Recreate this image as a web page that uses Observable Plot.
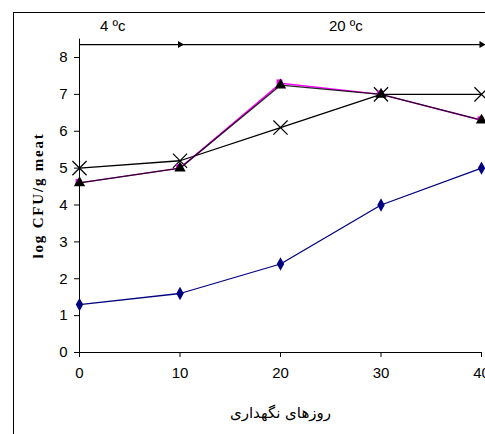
<!DOCTYPE html>
<html><head><meta charset="utf-8">
<script src="https://cdn.jsdelivr.net/npm/d3@7"></script>
<script src="https://cdn.jsdelivr.net/npm/@observablehq/plot@0.6"></script>
<style>
body{margin:0;background:#fff;}
#wrap{position:relative;width:485px;height:434px;overflow:hidden;}
#frame{position:absolute;left:13px;top:12px;width:490px;height:440px;border-left:1.5px solid #000;border-top:1.5px solid #000;pointer-events:none;}
</style>
</head><body>
<div id="wrap"><div id="frame"></div></div>
<script>
const days = [0, 10, 20, 30, 40];
const seriesDiamond = [1.3, 1.6, 2.4, 4.0, 5.0];
const seriesSquare = [4.6, 5.0, 7.3, 7.0, 6.3];
const seriesTriangle = [4.6, 5.0, 7.25, 7.0, 6.3];
const seriesCross = [5.0, 5.2, 6.1, 7.0, 7.0];
const yTicks = [0,1,2,3,4,5,6,7,8];
const xTicks = [0,10,20,30,40];
const phases = [{x1:0,x2:10,label:"4 ºc",lx:3.3},{x1:10,x2:40,label:"20 ºc",lx:26.5}];
const yLabel = "log CFU/g meat";
const xLabel = "روزهای نگهداری";

const mk = (vals) => days.map((d,i)=>({x:d,y:vals[i]}));
const tallDiamond = {draw(ctx, size){const w=Math.sqrt(size)*0.42, h=Math.sqrt(size)*0.75; ctx.moveTo(0,-h); ctx.lineTo(w,0); ctx.lineTo(0,h); ctx.lineTo(-w,0); ctx.closePath();}};
const font = "'Liberation Sans Narrow','Liberation Sans',Arial,sans-serif";

const chart = Plot.plot({
  width: 485, height: 434,
  marginLeft: 79, marginRight: 4, marginTop: 57, marginBottom: 82,
  style: {fontFamily: font, fontSize: "15px", color: "#000", background: "transparent", overflow: "visible"},
  x: {domain: [0, 40]},
  y: {domain: [0, 8]},
  marks: [
    Plot.axisY({ticks: yTicks, tickSize: 5, tickPadding: 7, label: null, stroke: "#000", strokeOpacity: 1, fontSize: 15}),
    Plot.axisX({ticks: xTicks, tickSize: 5, tickPadding: 10, label: null, stroke: "#000", strokeOpacity: 1, fontSize: 15}),
    Plot.ruleY([0], {stroke: "#000"}),
    Plot.ruleX([0], {y1: 0, y2: 8.5, stroke: "#000"}),
    Plot.link(phases, {x1: "x1", x2: "x2", y1: 8.35, y2: 8.35, stroke: "#000", strokeWidth: 1.2}),
    Plot.dot(phases, {x: "x2", y: 8.35, symbol: "triangle", rotate: 90, r: 2.6, fill: "#000", stroke: "none"}),
    Plot.text(phases, {x: "lx", y: 8.84, text: "label", fontSize: 15}),
    Plot.text([yLabel], {frameAnchor: "left", textAnchor: "middle", y: 4.26, dx: -41, rotate: -90, fontFamily: "'Liberation Serif','Times New Roman',serif", fontWeight: "bold", fontSize: 15, text: d=>d}),
    Plot.text([xLabel], {x: 20, y: 0, dy: 61, text: d=>d, fontFamily: "'DejaVu Sans',sans-serif", fontSize: 15}),
    Plot.line(mk(seriesDiamond), {x: "x", y: "y", stroke: "#000080", strokeWidth: 1.3}),
    Plot.dot(mk(seriesDiamond), {x: "x", y: "y", symbol: tallDiamond, r: 5, fill: "#000080", stroke: "none"}),
    Plot.line(mk(seriesCross), {x: "x", y: "y", stroke: "#000", strokeWidth: 1.3}),
    Plot.dot(mk(seriesCross), {x: "x", y: "y", symbol: "times", r: 6.5, stroke: "#000", strokeWidth: 1.2}),
    Plot.line(mk(seriesSquare), {x: "x", y: "y", stroke: "#ff00ff", strokeWidth: 1.5}),
    Plot.line(mk(seriesTriangle), {x: "x", y: "y", stroke: "#000", strokeWidth: 1.3, strokeOpacity: 0.85}),
    Plot.dot(mk(seriesSquare), {x: "x", y: "y", symbol: "square", r: 3.3, fill: "#ff00ff", stroke: "none", dx: -1, dy: -1}),
    Plot.dot(mk(seriesTriangle), {x: "x", y: "y", symbol: "triangle", r: 4.2, fill: "#000", stroke: "none"})
  ]
});
d3.select(chart).selectAll("text").filter(function(){return this.textContent === yLabel;}).style("letter-spacing", "1.8px");
document.getElementById("wrap").prepend(chart);
</script>
</body></html>
